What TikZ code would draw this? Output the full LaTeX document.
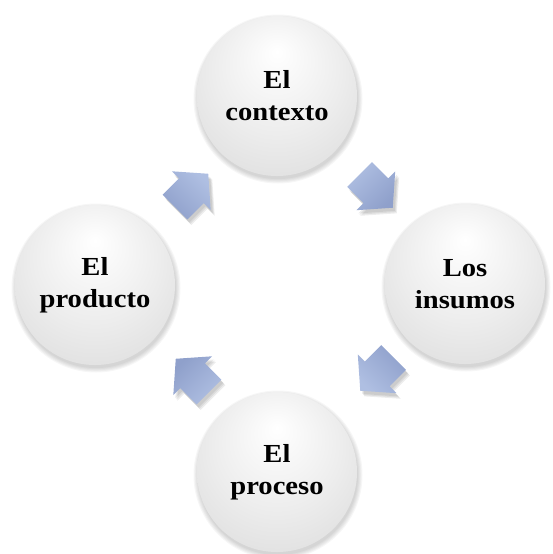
\documentclass[tikz,border=0pt]{standalone}
\usepackage{fontspec}
\setmainfont{Liberation Serif}[FakeStretch=1.1]
\definecolor{arrowtop}{HTML}{AFBFE2}
\definecolor{arrowbot}{HTML}{8FA0CB}
\definecolor{ballmid}{HTML}{EDEDED}
\definecolor{ballbot}{HTML}{CFCFCF}
\pgfdeclareradialshading{ballshade}{\pgfpoint{0bp}{14bp}}{color(0bp)=(white); color(20bp)=(ballmid); color(50bp)=(ballbot)}
\begin{document}
\begin{tikzpicture}[x=1pt,y=-1pt,
  stage/.style={circle, minimum size=160pt, inner sep=0pt, align=center,
    font=\fontsize{26}{32}\selectfont\bfseries, shade, shading=ballshade},
  blockarrow/.style={top color=arrowtop, bottom color=arrowbot},
  softshade/.style={fill=black, opacity=0.035},
]
\useasboundingbox (0,0) rectangle (552,554);
\def\arrowpath{(0,-17.5) -- (23,-17.5) -- (23,-27.5) -- (47,0) -- (23,27.5) -- (23,17.5) -- (0,17.5) -- cycle}
% circle shadows
\foreach \cx/\cy in {277/96, 465/284, 277/472, 95/285}{
  \foreach \k in {1,...,5}{
    \fill[softshade] (\cx+1,\cy+3) circle[radius={79pt+\k*1.1pt}];
  }
}
% circles
\node[stage] (ctx) at (277,96) {El\\contexto};
\node[stage] (ins) at (465,284) {Los\\insumos};
\node[stage] (pro) at (277,472) {El\\proceso};
\node[stage] (prd) at (95,285) {El\\producto};
% block arrows
\foreach \px/\py/\ang/\sa in {175/207/45/-45, 359.5/174.5/-45/45, 393.5/357.5/-135/135, 209/392/135/-135}{
  \begin{scope}[shift={(\px,\py)}]
    \foreach \k in {1,2,3}{
      \fill[black, opacity=0.07, shift={(1+\k,2+1.2*\k)}, rotate=\ang] \arrowpath;
    }
    \shade[rotate=\ang, blockarrow, shading angle=\sa] \arrowpath;
  \end{scope}
}
\end{tikzpicture}
\end{document}
